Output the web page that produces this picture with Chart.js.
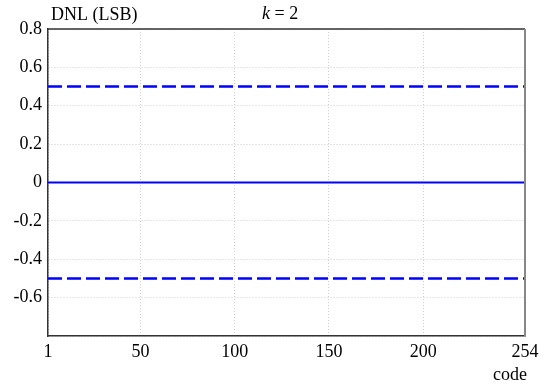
<!DOCTYPE html>
<html><head><meta charset="utf-8">
<script src="https://cdn.jsdelivr.net/npm/chart.js@4/dist/chart.umd.min.js"></script>
<style>html,body{margin:0;padding:0;background:#fff}#wrap{width:549px;height:385px}</style>
</head><body><div id="wrap"><canvas id="c" width="549" height="385"></canvas></div>
<script>
const codes = [1, 254];
const dnl = [0, 0];
const upperLimit = [0.5, 0.5];
const lowerLimit = [-0.5, -0.5];
const xTicks = [1, 50, 100, 150, 200, 254];
const yTicks = [-0.8, -0.6, -0.4, -0.2, 0, 0.2, 0.4, 0.6, 0.8];

const FONT = "'Liberation Serif', 'Times New Roman', Times, serif";
const FS = 18;
const pts = (ys) => codes.map((c, i) => ({x: c, y: ys[i]}));

const textPlugin = {
  id: 'texts',
  afterDraw(chart) {
    const ctx = chart.ctx, a = chart.chartArea;
    ctx.save();
    ctx.strokeStyle = '#333'; ctx.lineWidth = 1.5;
    ctx.beginPath(); ctx.moveTo(a.left, a.top); ctx.lineTo(a.right, a.top); ctx.stroke();
    ctx.strokeStyle = '#888'; ctx.lineWidth = 2;
    ctx.beginPath(); ctx.moveTo(a.right, a.top); ctx.lineTo(a.right, a.bottom); ctx.stroke();
    ctx.fillStyle = '#000';
    ctx.textBaseline = 'alphabetic';
    ctx.font = FS + 'px ' + FONT;
    ctx.textAlign = 'left';
    ctx.fillText('DNL (LSB)', 51, 20);
    ctx.font = 'italic ' + FS + 'px ' + FONT;
    ctx.fillText('k', 262, 19);
    const kw = ctx.measureText('k').width;
    ctx.font = FS + 'px ' + FONT;
    ctx.fillText(' = 2', 262 + kw, 19);
    ctx.textAlign = 'right';
    ctx.fillText('code', 527, 380);
    ctx.restore();
  }
};

new Chart(document.getElementById('c'), {
  type: 'line',
  data: {
    datasets: [
      {data: pts(dnl), borderColor: '#0000ff', borderWidth: 2.2, pointRadius: 0, fill: false},
      {data: pts(upperLimit), borderColor: '#0000ff', borderWidth: 2.5, borderDash: [14, 5], pointRadius: 0, fill: false},
      {data: pts(lowerLimit), borderColor: '#0000ff', borderWidth: 2.5, borderDash: [14, 5], pointRadius: 0, fill: false}
    ]
  },
  options: {
    responsive: false,
    animation: false,
    layout: {padding: {top: 29, right: 24, left: 0, bottom: 0}},
    plugins: {legend: {display: false}, tooltip: {enabled: false}},
    scales: {
      x: {
        type: 'linear', min: 1, max: 254,
        afterBuildTicks(s) { s.ticks = xTicks.map(v => ({value: v})); },
        afterFit(s) { s.height = 49; },
        ticks: {color: '#000', font: {family: FONT, size: FS}, padding: 5, maxRotation: 0, autoSkip: false,
                callback: v => String(v)},
        grid: {color: '#cdcdcd', lineWidth: 1, tickLength: 0, drawTicks: false},
        border: {display: true, color: '#333', width: 1.5, dash: [1, 2]}
      },
      y: {
        min: -0.8, max: 0.8,
        afterBuildTicks(s) { s.ticks = yTicks.map(v => ({value: v})); },
        afterFit(s) { s.width = 48; },
        ticks: {color: '#000', font: {family: FONT, size: FS}, padding: 6,
                callback: v => (Math.abs(v + 0.8) < 1e-9 ? '' : (Math.abs(v) < 1e-9 ? '0' : String(Math.round(v * 10) / 10)))},
        grid: {color: '#cdcdcd', lineWidth: 1, drawTicks: false, tickLength: 0},
        border: {display: true, color: '#333', width: 1.5, dash: [1, 2]}
      }
    }
  },
  plugins: [textPlugin]
});
</script>
</body></html>
